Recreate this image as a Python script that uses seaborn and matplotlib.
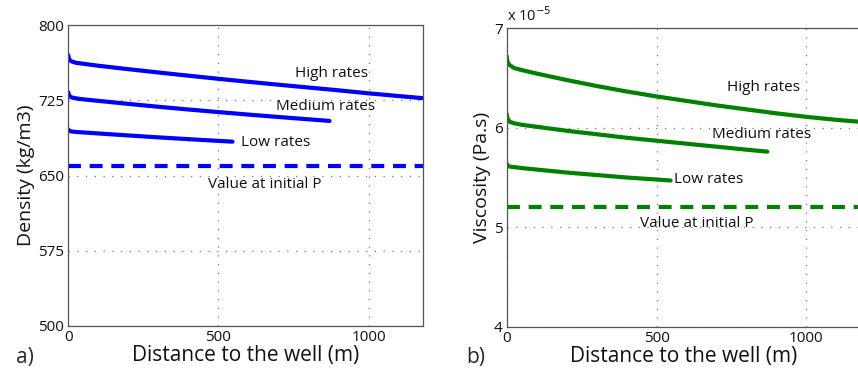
import numpy as np
import pandas as pd
import matplotlib
matplotlib.use("Agg")
import matplotlib.pyplot as plt
import seaborn as sns

sns.set_style("white")
plt.rcParams['font.family'] = ['Open Sans', 'DejaVu Sans']

# ---- data ----
dist_high = [0, 2, 5, 10, 25, 50, 100, 200, 300, 400, 500, 600, 700, 800, 900, 1000, 1100, 1180]
dist_med = [0, 2, 5, 10, 25, 50, 100, 200, 300, 400, 500, 600, 700, 800, 870]
dist_low = [0, 2, 5, 10, 25, 50, 100, 200, 300, 400, 500, 547]

dens_high = [770, 767, 765, 764, 762.5, 761.5, 759.5, 756.1, 752.8, 749.6, 746.5, 743.5,
             740.6, 737.8, 735.0, 732.0, 729.3, 727.2]
dens_med = [733, 730.5, 729, 728, 727, 726, 724.5, 721.5, 718.6, 715.9, 713.3, 710.8,
            708.4, 706.1, 704.5]
dens_low = [696, 695, 694.5, 694, 693.5, 693, 692, 690, 688.1, 686.3, 684.6, 683.8]
dens_init = 660

visc_high = [6.72, 6.67, 6.65, 6.63, 6.60, 6.58, 6.545, 6.48, 6.42, 6.365, 6.315, 6.27,
             6.225, 6.185, 6.145, 6.11, 6.08, 6.06]
visc_med = [6.14, 6.10, 6.08, 6.06, 6.045, 6.03, 6.01, 5.97, 5.935, 5.90, 5.87, 5.84,
            5.81, 5.78, 5.76]
visc_low = [5.64, 5.625, 5.615, 5.61, 5.605, 5.595, 5.58, 5.55, 5.525, 5.50, 5.48, 5.47]
visc_init = 5.2  # x 1e-5

labels = ["High rates", "Medium rates", "Low rates"]

fig = plt.figure(figsize=(8.58, 3.77), dpi=100)
ax1 = fig.add_axes([0.0796, 0.1353, 0.413, 0.798])
ax2 = fig.add_axes([0.5906, 0.1334, 0.412, 0.7915])


def build(dists, vals):
    rows = []
    for lab, d, v in zip(labels, dists, vals):
        for x, y in zip(d, v):
            rows.append((lab, x, y))
    return pd.DataFrame(rows, columns=["case", "dist", "val"])


def panel(ax, df, init, color, ylim, yticks, label_pos, init_pos, ylabel):
    sns.lineplot(data=df, x="dist", y="val", units="case", estimator=None,
                 color=color, lw=3, ax=ax, sort=False)
    ax.axhline(init, color=color, lw=3, ls=(0, (3.1, 2.1)))
    ax.set_xlim(0, 1180)
    ax.set_ylim(*ylim)
    ax.set_xticks([0, 500, 1000])
    ax.set_yticks(yticks)
    ax.grid(True, ls=(0, (1, 6)), color='#777777', lw=0.9)
    ax.tick_params(direction='in', length=4, labelsize=11, color='#555555', pad=3,
                   labelcolor='#111111')
    for s in ax.spines.values():
        s.set_color('#555555')
        s.set_linewidth(0.9)
    ax.set_xlabel("Distance to the well (m)", fontsize=15, labelpad=0, color='#111111')
    ax.set_ylabel(ylabel, fontsize=14, labelpad=2, color='#111111')
    for lab, (x, y) in zip(labels, label_pos):
        ax.text(x, y, lab, fontsize=11, ha='center', va='center', color='#111111')
    ax.text(init_pos[0], init_pos[1], "Value at initial P", fontsize=11,
            ha='center', va='center', color='#111111')


df1 = build([dist_high, dist_med, dist_low], [dens_high, dens_med, dens_low])
df2 = build([dist_high, dist_med, dist_low], [visc_high, visc_med, visc_low])

panel(ax1, df1, dens_init, (0, 0, 1), (500, 800), [500, 575, 650, 725, 800],
      [(876, 752), (858, 719), (690, 683)], (655, 641), "Density (kg/m3)")
panel(ax2, df2, visc_init, (0, 0.5, 0), (4, 7), [4, 5, 6, 7],
      [(856, 6.40), (852, 5.93), (674, 5.48)], (633, 5.04), "Viscosity (Pa.s)")
ax2.spines['right'].set_visible(False)
ax2.text(0.0, 1.012, "x 10$^{-5}$", transform=ax2.transAxes, fontsize=10.5,
         ha='left', va='bottom', color='#111111')

fig.text(16 / 858, 1 - 358 / 377, "a)", fontsize=15, va='center', ha='left')
fig.text(466 / 858, 1 - 357 / 377, "b)", fontsize=15, va='center', ha='left')

fig.savefig("out.png", dpi=100)
